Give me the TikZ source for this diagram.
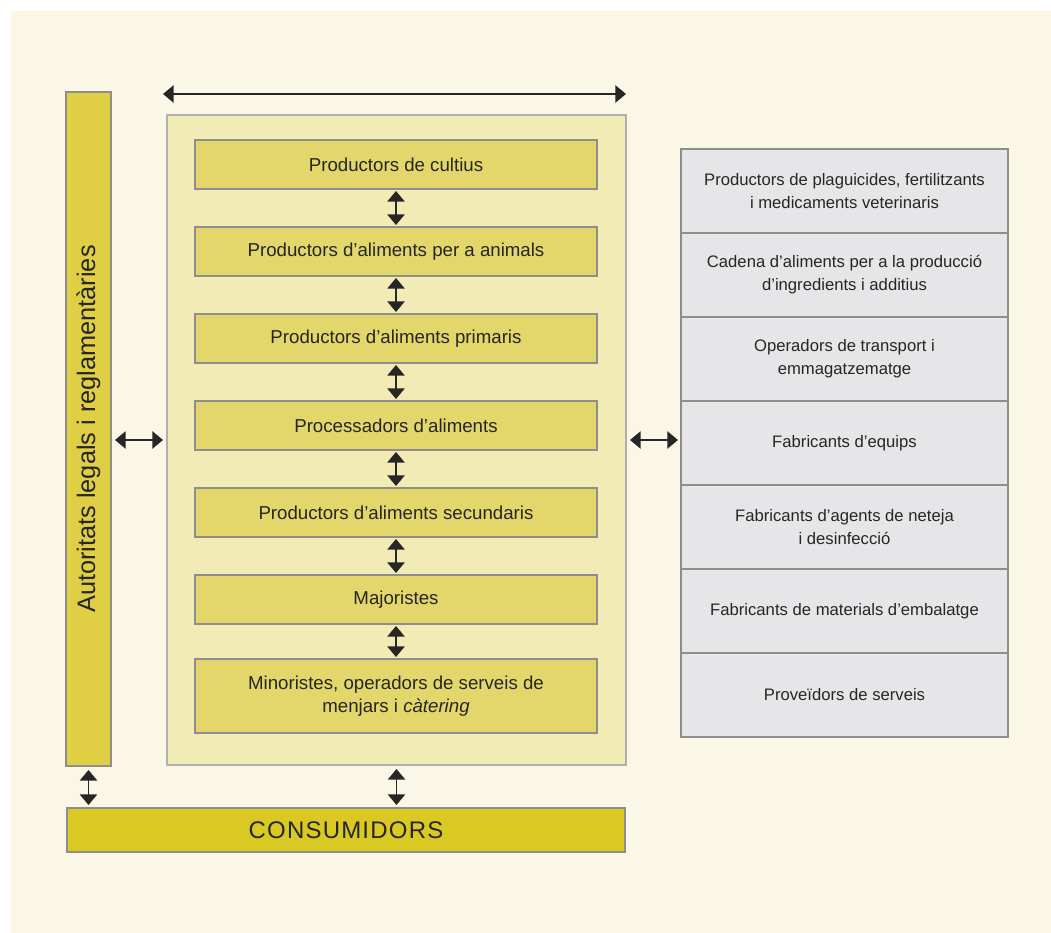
\documentclass[tikz,border=0pt]{standalone}
\usepackage{fontspec}
\setmainfont{Liberation Sans}
\usepackage{xcolor}
\usetikzlibrary{positioning,arrows.meta}

\definecolor{creambg}{HTML}{FAF7E6}
\definecolor{panelfill}{HTML}{F2EBB5}
\definecolor{boxfill}{HTML}{E3D66A}
\definecolor{barfill}{HTML}{E0CE45}
\definecolor{consfill}{HTML}{DAC823}
\definecolor{cellfill}{HTML}{E6E6E8}
\definecolor{edgegray}{HTML}{8E8E8E}
\definecolor{inkdark}{HTML}{262626}

\tikzset{
  chainbox/.style={draw=edgegray, line width=1.5pt, fill=boxfill, outer sep=0pt,
    minimum width=301.5pt, minimum height=36.75pt, align=center,
    text=inkdark, font=\fontsize{14}{17.25}\selectfont},
  sidecell/.style={draw=edgegray, line width=1.2pt, fill=cellfill, outer sep=0pt,
    minimum width=245.25pt, minimum height=63pt, align=center,
    text=inkdark, font=\fontsize{12.5}{17.25}\selectfont},
  biarrow/.style={{Triangle[width=13pt,length=8pt]}-{Triangle[width=13pt,length=8pt]},
    line width=1.2pt, draw=inkdark},
}

\begin{document}
\begin{tikzpicture}[x=0.75pt,y=-0.75pt]
\useasboundingbox (0,0) rectangle (1051,933);
\fill[creambg] (11,11) rectangle (1051,933);

% food chain panel
\node[draw=edgegray!70, line width=1pt, fill=panelfill, minimum width=344.25pt,
  minimum height=487.5pt, outer sep=0pt] (panel) at (396.5,440) {};
\node[chainbox] (c1) at (396,164.5) {Productors de cultius};
\node[chainbox, below=28.5pt of c1] (c2) {Productors d’aliments per a animals};
\node[chainbox, below=28.5pt of c2] (c3) {Productors d’aliments primaris};
\node[chainbox, below=28.5pt of c3] (c4) {Processadors d’aliments};
\node[chainbox, below=28.5pt of c4] (c5) {Productors d’aliments secundaris};
\node[chainbox, below=28.5pt of c5] (c6) {Majoristes};
\node[chainbox, below=26.25pt of c6, minimum height=55.5pt] (c7)
  {Minoristes, operadors de serveis de\\menjars i \textit{càtering}};

% authorities
\node[draw=edgegray, line width=1.5pt, fill=barfill, rotate=90, outer sep=0pt,
  minimum width=505.5pt, minimum height=33.75pt, text=inkdark,
  font=\fontsize{19}{22}\selectfont] (bar) at (88.5,429) {Autoritats legals i reglamentàries};

% consumers
\node[draw=edgegray, line width=1.5pt, fill=consfill, outer sep=0pt,
  minimum width=418.5pt, minimum height=33pt, text=inkdark,
  font=\fontsize{18}{20}\selectfont\addfontfeatures{LetterSpace=5}] (cons) at (346,830) {CONSUMIDORS};

% related organisations
\node[sidecell] (r1) at (844.5,191) {Productors de plaguicides, fertilitzants\\i medicaments veterinaris};
\node[sidecell, below=0pt of r1] (r2) {Cadena d’aliments per a la producció\\d’ingredients i additius};
\node[sidecell, below=0pt of r2] (r3) {Operadors de transport i\\emmagatzematge};
\node[sidecell, below=0pt of r3] (r4) {Fabricants d’equips};
\node[sidecell, below=0pt of r4] (r5) {Fabricants d’agents de neteja\\i desinfecció};
\node[sidecell, below=0pt of r5] (r6) {Fabricants de materials d’embalatge};
\node[sidecell, below=0pt of r6] (r7) {Proveïdors de serveis};

% arrows
\coordinate (topL) at (163,94);
\coordinate (topR) at (626,94);
\draw[biarrow] (topL) -- (topR);
\draw[biarrow, shorten <=1.5pt, shorten >=1.5pt] (c1) -- (c2);
\draw[biarrow, shorten <=1.5pt, shorten >=1.5pt] (c2) -- (c3);
\draw[biarrow, shorten <=1.5pt, shorten >=1.5pt] (c3) -- (c4);
\draw[biarrow, shorten <=1.5pt, shorten >=1.5pt] (c4) -- (c5);
\draw[biarrow, shorten <=1.5pt, shorten >=1.5pt] (c5) -- (c6);
\draw[biarrow, shorten <=1.5pt, shorten >=1.5pt] (c6) -- (c7);
\draw[biarrow, shorten <=3pt, shorten >=3pt] (bar.south |- panel.west) -- (panel.west);
\draw[biarrow, shorten <=3pt, shorten >=2.25pt] (panel.east) -- (panel.east -| r4.west);
\draw[biarrow, shorten <=3pt, shorten >=2.25pt] (bar.west) -- (bar.west |- cons.north);
\draw[biarrow, shorten <=3pt, shorten >=2.25pt] (panel.south) -- (panel.south |- cons.north);
\end{tikzpicture}
\end{document}
